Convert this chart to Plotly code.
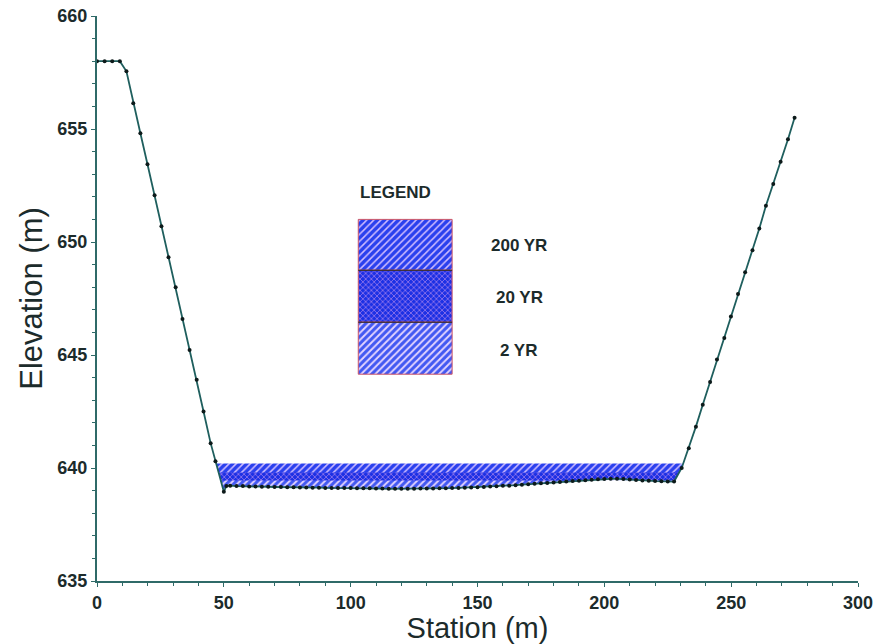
import plotly.graph_objects as go

# ---------------- data ----------------
station = [0.0, 3.0, 6.0, 9.0, 11.6, 14.3, 17.1, 19.9, 22.7, 25.4, 28.2, 31.0, 33.7, 36.5,
           39.3, 42.0, 44.8, 46.7, 50.0, 51.0,
           52.5, 55, 57.5, 60, 62.5, 65, 67.5, 70, 72.5, 75, 77.5, 80, 82.5, 85, 87.5, 90,
           92.5, 95, 97.5, 100, 102.5, 105, 107.5, 110, 112.5, 115, 117.5, 120, 122.5, 125,
           127.5, 130, 132.5, 135, 137.5, 140, 142.5, 145, 147.5, 150, 152.5, 155, 157.5,
           160, 162.5, 165, 167.5, 170, 172.5, 175, 177.5, 180, 182.5, 185, 187.5, 190,
           192.5, 195, 197.5, 200, 202.5, 205, 207.5, 210, 212.5, 215, 217.5, 220, 222.5,
           225, 227.5,
           230.5, 233.3, 236.1, 238.8, 241.7, 244.4, 247.3, 249.9, 252.7, 255.5, 258.4,
           261.1, 263.7, 266.6, 269.5, 272.4, 275.0]
elevation = [658.0, 658.0, 658.0, 658.0, 657.55, 656.14, 654.81, 653.44, 652.07, 650.70,
             649.33, 648.0, 646.59, 645.22, 643.9, 642.5, 641.1, 640.3, 638.95, 639.2,
             639.22, 639.2, 639.2, 639.18, 639.18, 639.17, 639.17, 639.16, 639.16, 639.15,
             639.15, 639.14, 639.14, 639.13, 639.13, 639.12, 639.12, 639.12, 639.11, 639.11,
             639.1, 639.1, 639.1, 639.09, 639.09, 639.08, 639.08, 639.08, 639.08, 639.08,
             639.09, 639.09, 639.09, 639.1, 639.1, 639.11, 639.12, 639.13, 639.14, 639.15,
             639.16, 639.18, 639.19, 639.21, 639.22, 639.24, 639.26, 639.28, 639.3, 639.32,
             639.34, 639.36, 639.38, 639.4, 639.42, 639.44, 639.46, 639.48, 639.5, 639.51,
             639.52, 639.52, 639.51, 639.49, 639.47, 639.45, 639.44, 639.42, 639.41, 639.4,
             639.4,
             640.0, 640.87, 641.83, 642.8, 643.8, 644.8, 645.75, 646.7, 647.7, 648.66,
             649.64, 650.6, 651.6, 652.57, 653.55, 654.55, 655.5]

event_names = ["200 YR", "20 YR", "2 YR"]
water_surface = [640.2, 639.8, 639.45]

x_tick_vals = [0, 50, 100, 150, 200, 250, 300]
y_tick_vals = [635, 640, 645, 650, 655, 660]

# ---------------- styles ----------------
FONT = "Liberation Sans, Arial, sans-serif"
TXT = "#1c2b2b"
AXC = "#2f6a68"
patterns = [
    dict(shape="/", bgcolor="#2a40ee", fgcolor="#d0bcff", size=5, solidity=0.3, fgopacity=1),
    dict(shape="x", bgcolor="#1c30e4", fgcolor="#c090ee", size=4, solidity=0.28, fgopacity=1),
    dict(shape="/", bgcolor="#4258f2", fgcolor="#e4d4ff", size=5, solidity=0.38, fgopacity=1),
]
legend_box_x = (103, 140)
legend_rows = [(648.75, 651.0), (646.45, 648.75), (644.15, 646.45)]
legend_text_x = 166.5
legend_text_y = [649.86, 647.56, 645.2]


def wetted(xs, zs, w):
    px, pz = [], []
    for i in range(len(xs) - 1):
        x0, z0, x1, z1 = xs[i], zs[i], xs[i + 1], zs[i + 1]
        if z0 < w:
            px.append(x0); pz.append(z0)
        if (z0 - w) * (z1 - w) < 0:
            xc = x0 + (w - z0) * (x1 - x0) / (z1 - z0)
            px.append(xc); pz.append(w)
    if zs[-1] < w:
        px.append(xs[-1]); pz.append(zs[-1])
    return px, pz


fig = go.Figure()

for name, w, pat in zip(event_names, water_surface, patterns):
    px, pz = wetted(station, elevation, w)
    fig.add_trace(go.Scatter(
        x=px + px[::-1], y=pz + [w] * len(px), fill="toself", mode="lines",
        line=dict(width=0), fillcolor=pat["bgcolor"], fillpattern=pat,
        showlegend=False, hoverinfo="skip"))

fig.add_trace(go.Scatter(
    x=station, y=elevation, mode="lines+markers",
    line=dict(color="#1f5f5e", width=1.8),
    marker=dict(color="#0d1a1a", size=4),
    cliponaxis=False, showlegend=False))

# legend drawn inside plot
x0, x1 = legend_box_x
for (y0, y1), pat, name, ty in zip(legend_rows, patterns, event_names, legend_text_y):
    fig.add_trace(go.Scatter(
        x=[x0, x1, x1, x0, x0], y=[y0, y0, y1, y1, y0], fill="toself", mode="lines",
        line=dict(width=1, color="#cc5566"), fillcolor=pat["bgcolor"], fillpattern=pat,
        showlegend=False, hoverinfo="skip"))
    fig.add_annotation(x=legend_text_x, y=ty, text="<b>" + name + "</b>", showarrow=False,
                       font=dict(family=FONT, size=17, color=TXT))
for (y0, y1) in legend_rows[:-1]:
    fig.add_shape(type="line", x0=x0, x1=x1, y0=y0, y1=y0,
                  line=dict(color="#1a2525", width=1))
fig.add_annotation(x=117.6, y=652.2, text="<b>LEGEND</b>", showarrow=False,
                   font=dict(family=FONT, size=17, color=TXT))

fig.update_layout(
    width=879, height=644,
    margin=dict(l=97, r=21, t=16, b=63, autoexpand=False),
    plot_bgcolor="white", paper_bgcolor="white",
    font=dict(family=FONT, color=TXT),
    xaxis=dict(range=[0, 300], tickvals=x_tick_vals, ticks="outside", ticklen=4,
               tickcolor=AXC, showline=True, linecolor=AXC, linewidth=2,
               showgrid=False, zeroline=False,
               tickfont=dict(family=FONT, size=18, color=TXT, weight="bold"),
               minor=dict(dtick=10, ticks="outside", ticklen=3, tickcolor=AXC),
               title=dict(text="Station (m)", font=dict(family=FONT, size=29, color=TXT),
                          standoff=4)),
    yaxis=dict(range=[635, 660], tickvals=y_tick_vals, ticks="outside", ticklen=4,
               tickcolor=AXC, showline=True, linecolor=AXC, linewidth=2,
               showgrid=False, zeroline=False,
               tickfont=dict(family=FONT, size=18, color=TXT, weight="bold"),
               minor=dict(dtick=1, ticks="outside", ticklen=3, tickcolor=AXC),
               title=dict(text="Elevation (m)", font=dict(family=FONT, size=31, color=TXT),
                          standoff=6)),
)

fig.write_html("out.html")
